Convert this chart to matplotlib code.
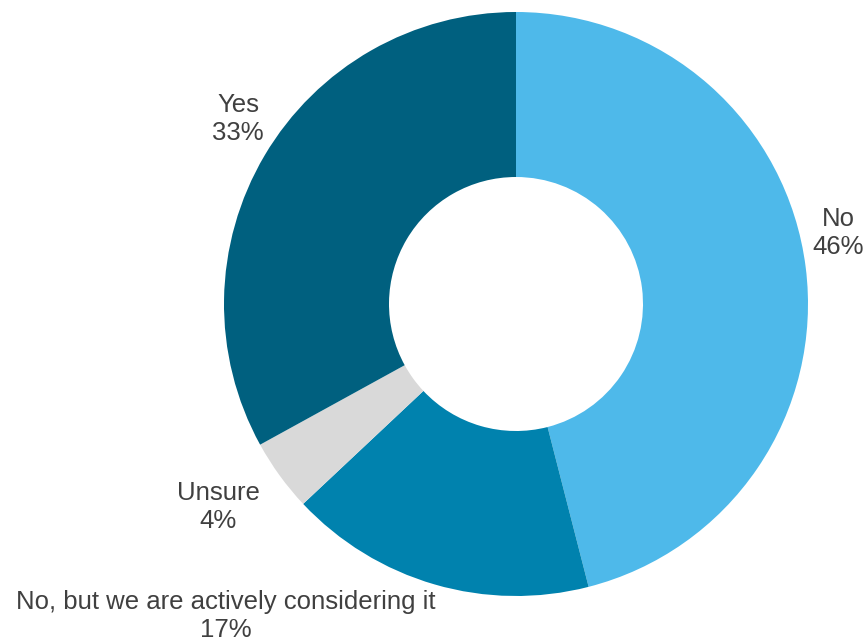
import matplotlib
matplotlib.use("Agg")
import matplotlib.pyplot as plt

categories = ["No", "No, but we are actively considering it", "Unsure", "Yes"]
shares = [46, 17, 4, 33]
colors = ["#4EB9EA", "#0082AE", "#D9D9D9", "#00607F"]

# label anchor points in figure pixels (centre of the two-line label)
label_pos = [(838, 233), (226, 616), (218, 507), (238, 119)]

W, H = 864, 643
fig = plt.figure(figsize=(W / 100, H / 100), dpi=100)
plt.rcParams["font.family"] = ["Liberation Sans", "DejaVu Sans"]

cx, cy, R = 516, 304, 292
ax = fig.add_axes([(cx - R) / W, (H - cy - R) / H, 2 * R / W, 2 * R / H])
ax.pie(shares, colors=colors, startangle=90, counterclock=False, radius=1.0,
       wedgeprops=dict(width=1 - 127 / 292, linewidth=0))
ax.set_xlim(-1, 1)
ax.set_ylim(-1, 1)
ax.set_aspect("equal")
ax.axis("off")

for name, val, (px, py) in zip(categories, shares, label_pos):
    fig.text(px / W, 1 - py / H, f"{name}\n{val}%", ha="center", va="center",
             fontsize=18.5, color="#404040", linespacing=1.2)

fig.savefig("out.png", dpi=100)
